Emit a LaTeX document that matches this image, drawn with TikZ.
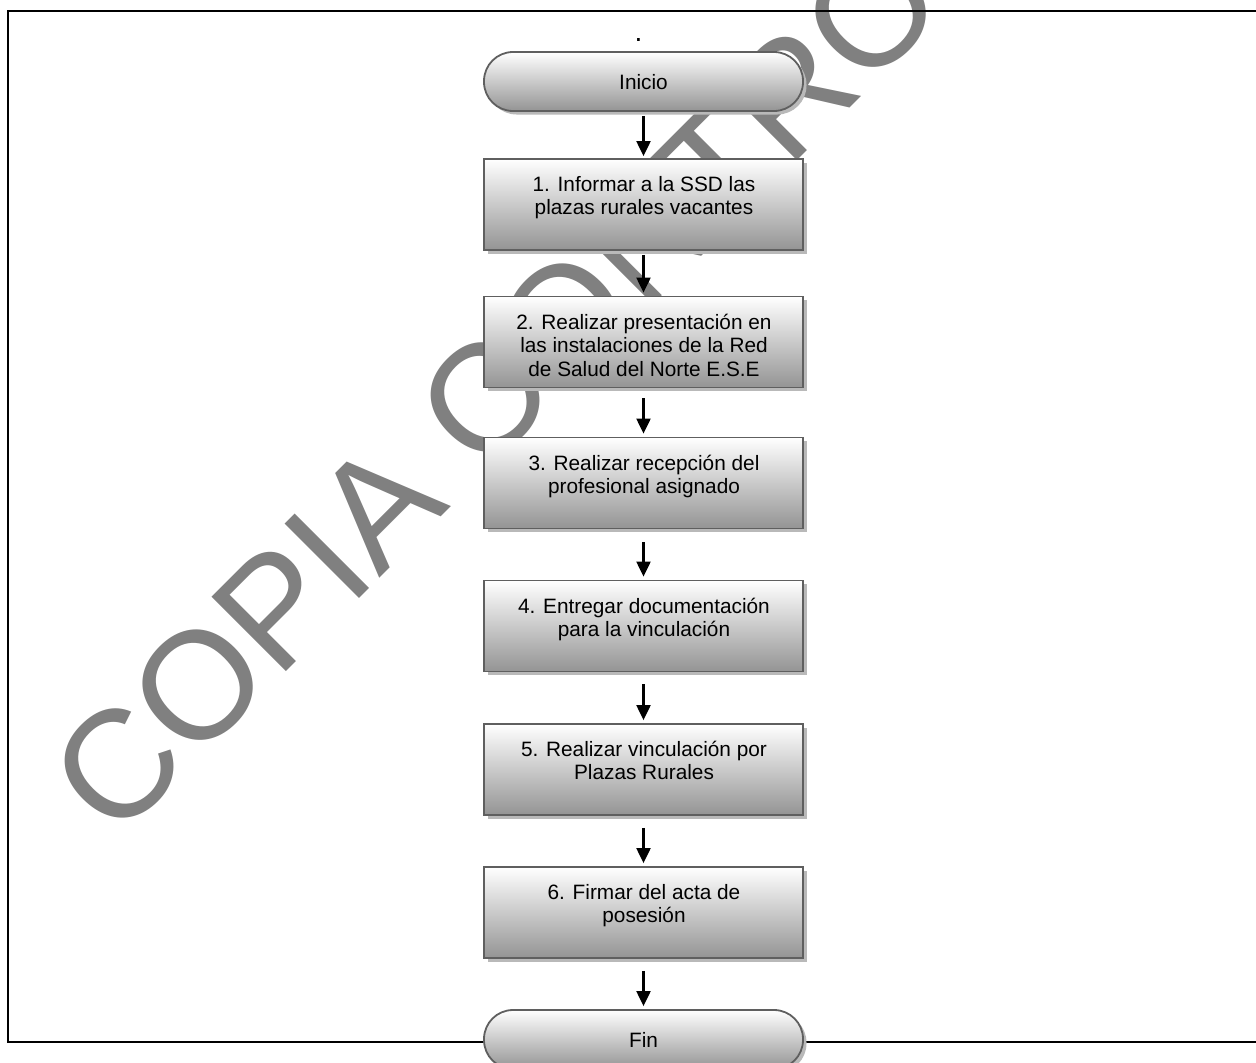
\documentclass[tikz,border=0pt]{standalone}
\usepackage{fontspec}
\setmainfont{Liberation Sans}
\usetikzlibrary{arrows.meta,shadows}
\definecolor{wmgray}{RGB}{128,128,128}
\definecolor{boxborder}{RGB}{95,95,95}
\definecolor{shadowgray}{RGB}{185,185,185}
\newcommand{\mlines}[1]{\begin{tabular}[t]{@{}c@{}}#1\end{tabular}}
\tikzset{
  procbox/.style={draw=boxborder, line width=1.8pt, inner sep=0pt,
    minimum width=319pt, minimum height=91pt,
    top color=white, bottom color=black!42,
    general shadow={fill=shadowgray, shadow xshift=3.5pt, shadow yshift=-3.5pt}},
  termbox/.style={procbox, minimum height=59pt, rounded corners=29pt},
  boxtext/.style={anchor=base, inner sep=0pt, font=\fontsize{20.8}{23.5}\selectfont},
  arr/.style={line width=2.1pt, -{Triangle[length=15pt,width=14pt]}},
  frameline/.style={line width=2.8pt, black},
  watermark/.style={anchor=base west, rotate=45, inner sep=0pt, text=wmgray,
    font=\fontsize{153}{153}\selectfont}
}
\begin{document}
\begin{tikzpicture}[x=1pt, y=-1pt]
\useasboundingbox (0,0) rectangle (1256,1063);
% watermark
\begin{scope}
\clip (0,0) rectangle (1256,1063);
\node[watermark] (wm) at (115,843) {COPIA CONTROLADA};
\end{scope}
% frame
\draw[frameline] (1256,11) -- (8,11) -- (8,1042) -- (1256,1042);
% small dot
\node[boxtext, font=\fontsize{28}{28}\selectfont] (dot) at (638.5,41) {.};
% nodes
\node[termbox] (ini) at (643.5,81.5) {};
\node[boxtext] (tini) at (643.5,89) {Inicio};
\node[procbox] (b1) at (643.5,204.5) {};
\node[boxtext] (t1) at (644,191) {\mlines{1. Informar a la SSD las\\plazas rurales vacantes}};
\node[procbox] (b2) at (643.5,342) {};
\node[boxtext] (t2) at (644,329) {\mlines{2. Realizar presentación en\\las instalaciones de la Red\\de Salud del Norte E.S.E}};
\node[procbox] (b3) at (643.5,483) {};
\node[boxtext] (t3) at (644,470) {\mlines{3. Realizar recepción del\\profesional asignado}};
\node[procbox] (b4) at (643.5,626) {};
\node[boxtext] (t4) at (644,613) {\mlines{4. Entregar documentación\\para la vinculación}};
\node[procbox] (b5) at (643.5,769.5) {};
\node[boxtext] (t5) at (644,756) {\mlines{5. Realizar vinculación por\\Plazas Rurales}};
\node[procbox] (b6) at (643.5,912.5) {};
\node[boxtext] (t6) at (644,899) {\mlines{6. Firmar del acta de\\posesión}};
\node[termbox] (fin) at (643.5,1039.5) {};
\node[boxtext] (tfin) at (643.5,1047) {Fin};
% arrows
\draw[arr, shorten <=4pt, shorten >=2pt] (ini) -- (b1);
\draw[arr, shorten <=4pt, shorten >=3pt] (b1) -- (b2);
\draw[arr, shorten <=10pt, shorten >=3pt] (b2) -- (b3);
\draw[arr, shorten <=13pt, shorten >=3pt] (b3) -- (b4);
\draw[arr, shorten <=12pt, shorten >=3pt] (b4) -- (b5);
\draw[arr, shorten <=12pt, shorten >=3pt] (b5) -- (b6);
\draw[arr, shorten <=12pt, shorten >=3pt] (b6) -- (fin);
\end{tikzpicture}
\end{document}
